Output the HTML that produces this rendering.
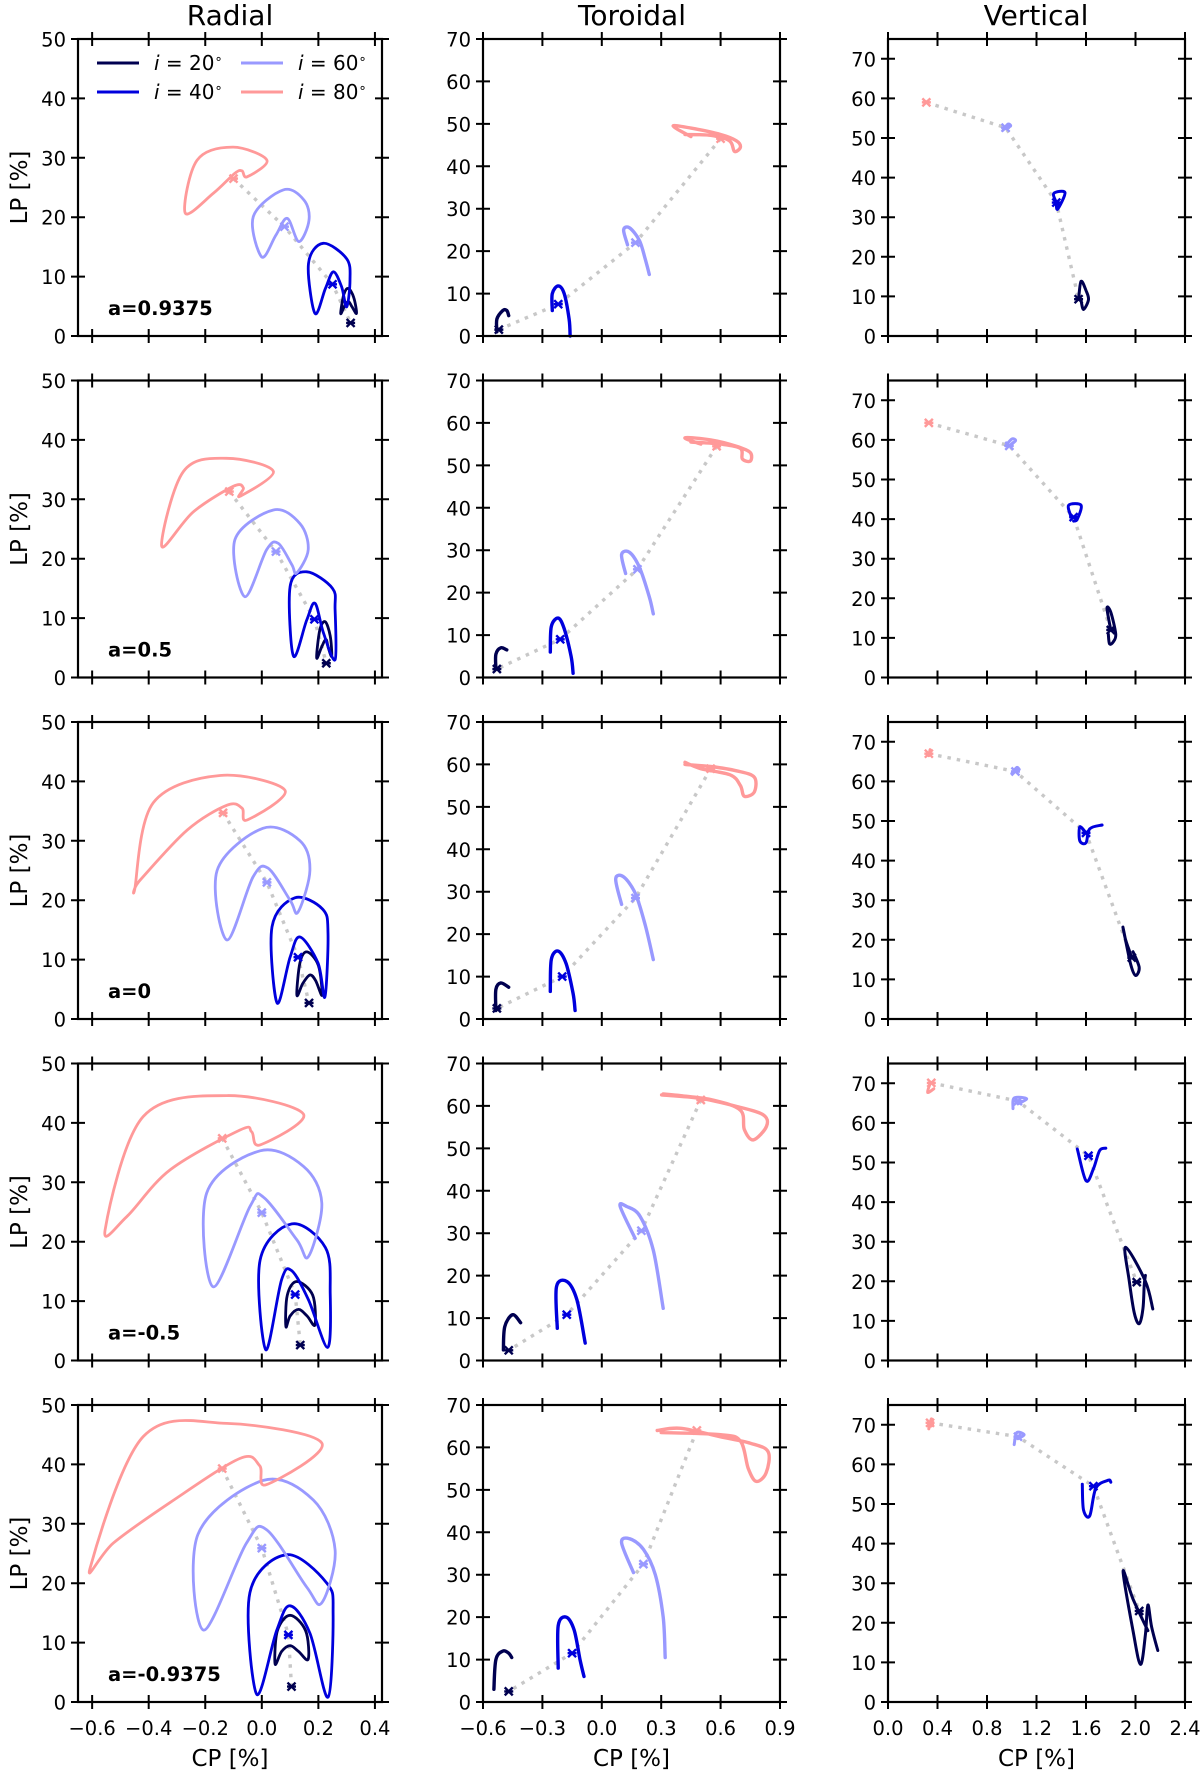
<!DOCTYPE html>
<html><head><meta charset="utf-8">
<style>
html,body{margin:0;padding:0;background:#fff;}
svg{display:block;font-family:"DejaVu Sans","Liberation Sans",sans-serif;}
</style></head>
<body>
<svg id="fig" width="1200" height="1773" viewBox="0 0 1200 1773" xmlns="http://www.w3.org/2000/svg">
<text x="230" y="25" font-size="28" text-anchor="middle">Radial</text>
<text x="632" y="25" font-size="28" text-anchor="middle">Toroidal</text>
<text x="1036" y="25" font-size="28" text-anchor="middle">Vertical</text>
<g id="plots"></g>
</svg>
<script>
// ---- data ----
const spinLabels = ["a=0.9375","a=0.5","a=0","a=-0.5","a=-0.9375"];
const seriesNames = ["i = 20°","i = 40°","i = 60°","i = 80°"];
const seriesColors = ["#000050","#0000dd","#9999ff","#ff9999"];
const radialTicksX = [-0.6,-0.4,-0.2,0.0,0.2,0.4];
const toroidalTicksX = [-0.6,-0.3,0.0,0.3,0.6,0.9];
const verticalTicksX = [0.0,0.4,0.8,1.2,1.6,2.0,2.4];
const radialTicksY = [0,10,20,30,40,50];
const toroidalTicksY = [0,10,20,30,40,50,60,70];
const verticalTicksY = [0,10,20,30,40,50,60,70];

const radialCurves = [
 [
  [[0.279,3.8],[0.29,7],[0.306,8.0],[0.325,6.5],[0.335,3.8],[0.318,5],[0.306,5.8],[0.292,5],[0.279,3.8]],
  [[0.188,3.8],[0.165,12.2],[0.217,15.6],[0.3,13],[0.312,9.4],[0.3,4.9],[0.282,8.3],[0.253,10.8],[0.225,8],[0.188,3.8]],
  [[0.0,13.3],[-0.03,20.1],[0.076,24.6],[0.149,22.9],[0.167,19.5],[0.131,15.9],[0.09,19.8],[0.05,17],[0.0,13.3]],
  [[-0.271,20.7],[-0.229,29.6],[-0.102,31.8],[0.018,29.6],[-0.052,26.8],[-0.07,27.8],[-0.095,27.4],[-0.172,24],[-0.271,20.7]]
 ],
 [
  [[0.194,3.3],[0.205,8],[0.224,9.4],[0.242,7],[0.247,3.6],[0.235,5],[0.227,6.4],[0.212,5.2],[0.194,3.3]],
  [[0.112,3.6],[0.1,15.3],[0.159,17.8],[0.25,15],[0.259,11.4],[0.259,3],[0.218,7.5],[0.188,12.5],[0.159,9.7],[0.112,3.6]],
  [[-0.06,13.6],[-0.095,23.2],[0.041,28.2],[0.135,25.9],[0.164,21.5],[0.123,17.6],[0.106,19],[0.058,22.6],[0.017,21.5],[-0.06,13.6]],
  [[-0.354,22.1],[-0.277,34.7],[-0.124,36.9],[0.041,34.7],[-0.077,30.5],[-0.065,31.9],[-0.1,32.2],[-0.242,27.9],[-0.354,22.1]]
 ],
 [
  [[0.124,4.0],[0.135,9.5],[0.16,11.3],[0.2,9],[0.213,4],[0.19,6.5],[0.17,7.4],[0.145,6],[0.124,4.0]],
  [[0.054,2.7],[0.036,15.5],[0.117,20.4],[0.215,18.5],[0.234,14.5],[0.223,3.7],[0.199,9.4],[0.135,13.8],[0.1,10.4],[0.054,2.7]],
  [[-0.123,13.3],[-0.158,25],[0.004,32.1],[0.135,30],[0.17,25],[0.128,18],[0.1,20],[0.022,25.4],[-0.031,23.9],[-0.123,13.3]],
  [[-0.448,22.2],[-0.384,36.4],[-0.148,41],[0.082,38.5],[-0.052,33.5],[-0.07,35.5],[-0.123,36],[-0.264,31.8],[-0.43,23.4],[-0.448,22.2]]
 ],
 [
  [[0.085,5.7],[0.09,11],[0.124,13.3],[0.18,11],[0.188,6],[0.16,7.5],[0.13,8.6],[0.1,7.5],[0.085,5.7]],
  [[0.014,1.8],[-0.006,16.9],[0.106,23],[0.225,19],[0.242,11.3],[0.233,2.2],[0.165,10.2],[0.106,15.1],[0.07,13.6],[0.014,1.8]],
  [[-0.172,12.4],[-0.195,28.2],[-0.006,35.3],[0.147,32.7],[0.212,26.5],[0.165,17.5],[0.124,20.3],[0.006,27.5],[-0.041,26],[-0.172,12.4]],
  [[-0.554,22],[-0.419,41.1],[-0.124,44.6],[0.147,41.5],[-0.006,36.3],[-0.036,38.5],[-0.077,38.8],[-0.324,32.1],[-0.478,24.2],[-0.554,22]]
 ],
 [
  [[0.047,6.4],[0.055,12],[0.1,14.6],[0.155,12],[0.164,7.2],[0.13,8.5],[0.1,9.5],[0.07,8.5],[0.047,6.4]],
  [[-0.018,1.3],[-0.042,18.4],[0.088,24.8],[0.23,20],[0.252,14.9],[0.234,0.8],[0.17,11.6],[0.1,16.2],[0.053,12.1],[-0.018,1.3]],
  [[-0.206,12.1],[-0.226,28.2],[0.005,37.3],[0.182,34],[0.259,25.6],[0.212,16.7],[0.158,19.4],[0.017,29],[-0.055,26.7],[-0.206,12.1]],
  [[-0.607,22.6],[-0.419,44.7],[-0.124,46.9],[0.212,43.6],[0.017,36.6],[-0.008,39.8],[-0.078,41],[-0.324,33.6],[-0.524,26.8],[-0.607,22.6]]
 ]
];
const radialMarkers = [
 [[0.314,2.2],[0.25,8.7],[0.08,18.4],[-0.1,26.5]],
 [[0.228,2.4],[0.186,9.8],[0.05,21.2],[-0.115,31.3]],
 [[0.167,2.7],[0.128,10.4],[0.018,23],[-0.137,34.7]],
 [[0.136,2.6],[0.118,11.1],[0.0,24.9],[-0.14,37.4]],
 [[0.105,2.6],[0.094,11.3],[0.0,25.9],[-0.14,39.3]]
];

const toroidalCurves = [
 [
  [[-0.53,1],[-0.53,4],[-0.5,6],[-0.48,6],[-0.47,4.8]],
  [[-0.25,6],[-0.25,10],[-0.22,11.8],[-0.19,10],[-0.165,4],[-0.16,0]],
  [[0.13,21.5],[0.11,25],[0.14,25.5],[0.19,22.5],[0.22,18],[0.24,14.5]],
  [[0.45,47],[0.36,49.5],[0.45,49],[0.6,47.5],[0.68,46],[0.7,44.5],[0.67,43.5],[0.645,46],[0.55,47.3],[0.42,47.5]]
 ],
 [
  [[-0.535,2],[-0.535,5.5],[-0.51,7],[-0.48,6.5]],
  [[-0.26,6],[-0.255,12],[-0.22,14],[-0.19,11.5],[-0.155,5],[-0.145,1]],
  [[0.12,24.5],[0.1,29],[0.14,29.5],[0.19,26],[0.24,19],[0.26,15]],
  [[0.5,55],[0.42,56.5],[0.55,56],[0.68,54.5],[0.75,53],[0.75,51],[0.71,51.5],[0.7,54],[0.6,55],[0.45,55.5]]
 ],
 [
  [[-0.535,2],[-0.535,7],[-0.51,8.5],[-0.47,7.5]],
  [[-0.26,6.5],[-0.255,14],[-0.22,16],[-0.18,13],[-0.145,6],[-0.135,2]],
  [[0.1,27],[0.07,33],[0.11,33.5],[0.17,29.5],[0.22,22],[0.26,14]],
  [[0.42,60],[0.55,59.5],[0.68,58.5],[0.77,57],[0.77,53.5],[0.72,52.5],[0.7,55],[0.65,57.5],[0.5,59],[0.42,60.5]]
 ],
 [
  [[-0.497,2.5],[-0.49,8],[-0.45,10.8],[-0.41,8.9]],
  [[-0.225,7.6],[-0.229,17.4],[-0.176,18.6],[-0.126,14.3],[-0.084,4.1]],
  [[0.168,28.8],[0.093,36.3],[0.126,36.3],[0.193,34],[0.26,26],[0.31,12.3]],
  [[0.302,62.6],[0.496,61.8],[0.68,59.9],[0.815,57.9],[0.832,55.2],[0.765,52],[0.72,54.4],[0.7,59],[0.56,61.4],[0.4,62.4],[0.31,62.8]]
 ],
 [
  [[-0.545,3],[-0.535,10],[-0.5,12],[-0.47,11.5],[-0.455,10.5]],
  [[-0.22,8],[-0.22,18],[-0.18,20],[-0.14,17],[-0.11,10],[-0.09,6]],
  [[0.16,30.5],[0.1,37.5],[0.14,38.5],[0.21,36],[0.27,30],[0.31,20],[0.32,10.5]],
  [[0.28,64],[0.4,64.5],[0.6,62.5],[0.75,61],[0.84,59],[0.83,54],[0.78,52],[0.74,55],[0.7,61.5],[0.6,63],[0.3,63.5]]
 ]
];
const toroidalMarkers = [
 [[-0.52,1.5],[-0.22,7.5],[0.17,22],[0.6,46.5]],
 [[-0.53,2],[-0.21,9],[0.18,25.5],[0.58,54.5]],
 [[-0.53,2.5],[-0.2,10],[0.17,28.5],[0.55,59]],
 [[-0.47,2.4],[-0.177,10.8],[0.2,30.6],[0.5,61.4]],
 [[-0.47,2.5],[-0.15,11.5],[0.21,32.5],[0.48,64]]
];

const verticalCurves = [
 [
  [[1.54,9.3],[1.56,13.8],[1.6,11.5],[1.62,9.2],[1.58,6.7],[1.56,9]],
  [[1.36,33.7],[1.34,36],[1.43,36.2],[1.37,32],[1.36,34]],
  [[0.93,52],[0.97,53.5],[0.99,53],[0.94,52.3]],
  [[0.31,59],[0.32,59.3]]
 ],
 [
  [[1.8,12],[1.77,17.5],[1.8,16.5],[1.84,11],[1.82,9],[1.79,8.5],[1.78,11]],
  [[1.48,40.5],[1.46,43.5],[1.56,43.5],[1.53,40],[1.5,39.5]],
  [[0.95,58.5],[1.0,60.2],[1.03,59.8],[0.98,58.5]],
  [[0.33,64.3],[0.34,64.6]]
 ],
 [
  [[1.97,15.5],[1.92,20],[1.9,23],[1.96,14],[2.0,11],[2.03,13],[1.98,17]],
  [[1.6,47],[1.55,48.5],[1.55,45],[1.6,44.5],[1.63,48],[1.73,49]],
  [[1.0,62],[1.04,63.5],[1.06,63]],
  [[0.33,66.5],[0.34,68]]
 ],
 [
  [[2.14,13],[2.08,20],[1.92,28.6],[1.95,20],[1.99,12],[2.03,9.3],[2.06,13],[2.07,19],[2.08,21.5]],
  [[1.53,53.4],[1.6,45.4],[1.66,48.4],[1.71,53],[1.76,53.6]],
  [[1.01,63.6],[1.02,66.3],[1.12,66.1],[1.05,64.8]],
  [[0.34,69.9],[0.32,67.7],[0.37,68.6]]
 ],
 [
  [[2.18,13],[2.13,19],[2.1,24.5],[2.08,17],[2.04,9.5],[1.98,18],[1.9,33],[1.98,26],[2.1,18]],
  [[1.57,55],[1.58,48.5],[1.63,47],[1.68,54],[1.78,56],[1.8,55.5]],
  [[1.02,65],[1.04,68],[1.1,67.5],[1.05,66.5]],
  [[0.33,69],[0.35,71.5],[0.36,70],[0.33,69.5]]
 ]
];
const verticalMarkers = [
 [[1.54,9.3],[1.36,33.7],[0.95,52.6],[0.31,59]],
 [[1.8,12],[1.5,40.5],[0.98,58.5],[0.33,64.3]],
 [[1.97,15.5],[1.6,47],[1.03,62.5],[0.33,67]],
 [[2.01,19.8],[1.62,51.7],[1.05,65.5],[0.35,70.1]],
 [[2.03,23],[1.66,54.5],[1.05,67],[0.34,70.5]]
];

// ---- layout ----
const NS="http://www.w3.org/2000/svg";
const colLeft=[78,483,888], colW=[304,297,297];
const rowTop0=39, rowPitch=341.5, panelH=297;
const cols=[
 {name:"radial",xmin:-0.65,xmax:0.425,ymax:50,xt:radialTicksX,yt:radialTicksY,curves:radialCurves,markers:radialMarkers,closed:true,lw:2.8},
 {name:"toroidal",xmin:-0.6,xmax:0.9,ymax:70,xt:toroidalTicksX,yt:toroidalTicksY,curves:toroidalCurves,markers:toroidalMarkers,closed:false,lw:3.4},
 {name:"vertical",xmin:0,xmax:2.4,ymax:75,xt:verticalTicksX,yt:verticalTicksY,curves:verticalCurves,markers:verticalMarkers,closed:false,lw:3}
];
const root=document.getElementById('plots');
function mk(tag,attrs,parent){const e=document.createElementNS(NS,tag);for(const k in attrs)e.setAttribute(k,attrs[k]);(parent||root).appendChild(e);return e;}
function smooth(pts){
 if(pts.length<3){return "M"+pts.map(p=>p[0].toFixed(1)+","+p[1].toFixed(1)).join("L");}
 let d="M"+pts[0][0].toFixed(1)+","+pts[0][1].toFixed(1);
 for(let i=0;i<pts.length-1;i++){
  const p0=pts[Math.max(0,i-1)],p1=pts[i],p2=pts[i+1],p3=pts[Math.min(pts.length-1,i+2)];
  const c1=[p1[0]+(p2[0]-p0[0])/6,p1[1]+(p2[1]-p0[1])/6];
  const c2=[p2[0]-(p3[0]-p1[0])/6,p2[1]-(p3[1]-p1[1])/6];
  d+="C"+c1[0].toFixed(1)+","+c1[1].toFixed(1)+" "+c2[0].toFixed(1)+","+c2[1].toFixed(1)+" "+p2[0].toFixed(1)+","+p2[1].toFixed(1);
 }
 return d;
}
function smoothClosed(pts){
 const p=pts.slice(0,pts.length-1); const n=p.length;
 let d="M"+p[0][0].toFixed(1)+","+p[0][1].toFixed(1);
 for(let i=0;i<n;i++){
  const p0=p[(i-1+n)%n],p1=p[i],p2=p[(i+1)%n],p3=p[(i+2)%n];
  const c1=[p1[0]+(p2[0]-p0[0])/6,p1[1]+(p2[1]-p0[1])/6];
  const c2=[p2[0]-(p3[0]-p1[0])/6,p2[1]-(p3[1]-p1[1])/6];
  d+="C"+c1[0].toFixed(1)+","+c1[1].toFixed(1)+" "+c2[0].toFixed(1)+","+c2[1].toFixed(1)+" "+p2[0].toFixed(1)+","+p2[1].toFixed(1);
 }
 return d+"Z";
}
function lab(v){return (v<0?"\u2212":"")+Math.abs(v).toFixed(1);}

for(let r=0;r<5;r++){
 for(let c=0;c<3;c++){
  const C=cols[c]; const L=colLeft[c], W=colW[c], T=rowTop0+r*rowPitch, B=T+panelH;
  const sx=v=>L+(v-C.xmin)/(C.xmax-C.xmin)*W;
  const sy=v=>B-v/C.ymax*panelH;
  const g=mk('g',{});
  
  
  const mpts=C.markers[r].slice().reverse().map(p=>[sx(p[0]),sy(p[1])]);
  const dl=mk('path',{d:"M"+mpts.map(p=>p[0].toFixed(1)+","+p[1].toFixed(1)).join("L"),fill:"none",stroke:"#c8c8c8","stroke-width":3.4,"stroke-dasharray":"3.5,6"},g);
  
  
  for(let s=0;s<4;s++){
   const pts=C.curves[r][s].map(p=>[sx(p[0]),sy(p[1])]);
   const d=C.closed?smoothClosed(pts):smooth(pts);
   const pe=mk('path',{d:d,fill:"none",stroke:seriesColors[s],"stroke-width":C.lw,"stroke-linejoin":"round","stroke-linecap":"round"},g);
   
   
  }
  for(let s=0;s<4;s++){
   const m=C.markers[r][s]; const x=sx(m[0]),y=sy(m[1]);
   const me=mk('path',{d:`M${x-4},${y-4}L${x+4},${y+4}M${x+4},${y-4}L${x-4},${y+4}M${x-4.5},${y}L${x+4.5},${y}`,stroke:seriesColors[s],"stroke-width":2.4,fill:"none"},g);
   
   
  }
  const fr=mk('rect',{x:L,y:T,width:W,height:panelH,fill:"none",stroke:"#000","stroke-width":2.2},g);
  
  
  for(const v of C.xt){
   const x=sx(v);
   const t=mk('path',{d:`M${x},${B-7}L${x},${B+7}M${x},${T-7}L${x},${T+7}`,stroke:"#000","stroke-width":2},g);
   
   
   if(r===4){
    const tl=mk('text',{x:x,y:B+33,"font-size":19.5,"text-anchor":"middle"},g);
    tl.textContent=lab(v);
    
    
   }
  }
  for(const v of C.yt){
   const y=sy(v);
   const t=mk('path',{d:`M${L-7},${y}L${L+7},${y}M${L+W-7},${y}L${L+W+7},${y}`,stroke:"#000","stroke-width":2},g);
   
   
   const tl=mk('text',{x:L-12,y:y+7.5,"font-size":19.5,"text-anchor":"end"},g);
   tl.textContent=String(v);
   
   
  }
  if(c===0){
   const yl=mk('text',{x:0,y:0,"font-size":23,"text-anchor":"middle",transform:`translate(27,${T+panelH/2}) rotate(-90)`},g);
   yl.textContent="LP [%]";
   
   
   const an=mk('text',{x:108,y:T+276,"font-size":19.5,"font-weight":"bold"},g);
   an.textContent=spinLabels[r];
   
   
  }
  if(r===4){
   const xl=mk('text',{x:L+W/2,y:1766,"font-size":23,"text-anchor":"middle"},g);
   xl.textContent="CP [%]";
   
   
  }
 }
}
const leg=mk('g',{});


const legPos=[[97,63],[97,92],[241,63],[241,92]];
for(let s=0;s<4;s++){
 const [x,y]=legPos[s];
 const ln=mk('path',{d:`M${x},${y}L${x+42},${y}`,stroke:seriesColors[s],"stroke-width":3},leg);
 
 
 const tx=mk('text',{x:x+57,y:y+7,"font-size":20},leg);
 tx.innerHTML='<tspan font-style="italic">i</tspan> = '+(20+20*s)+'<tspan dy="-7" font-size="13">\u2218</tspan>';
 
 
}
</script>
</body></html>
